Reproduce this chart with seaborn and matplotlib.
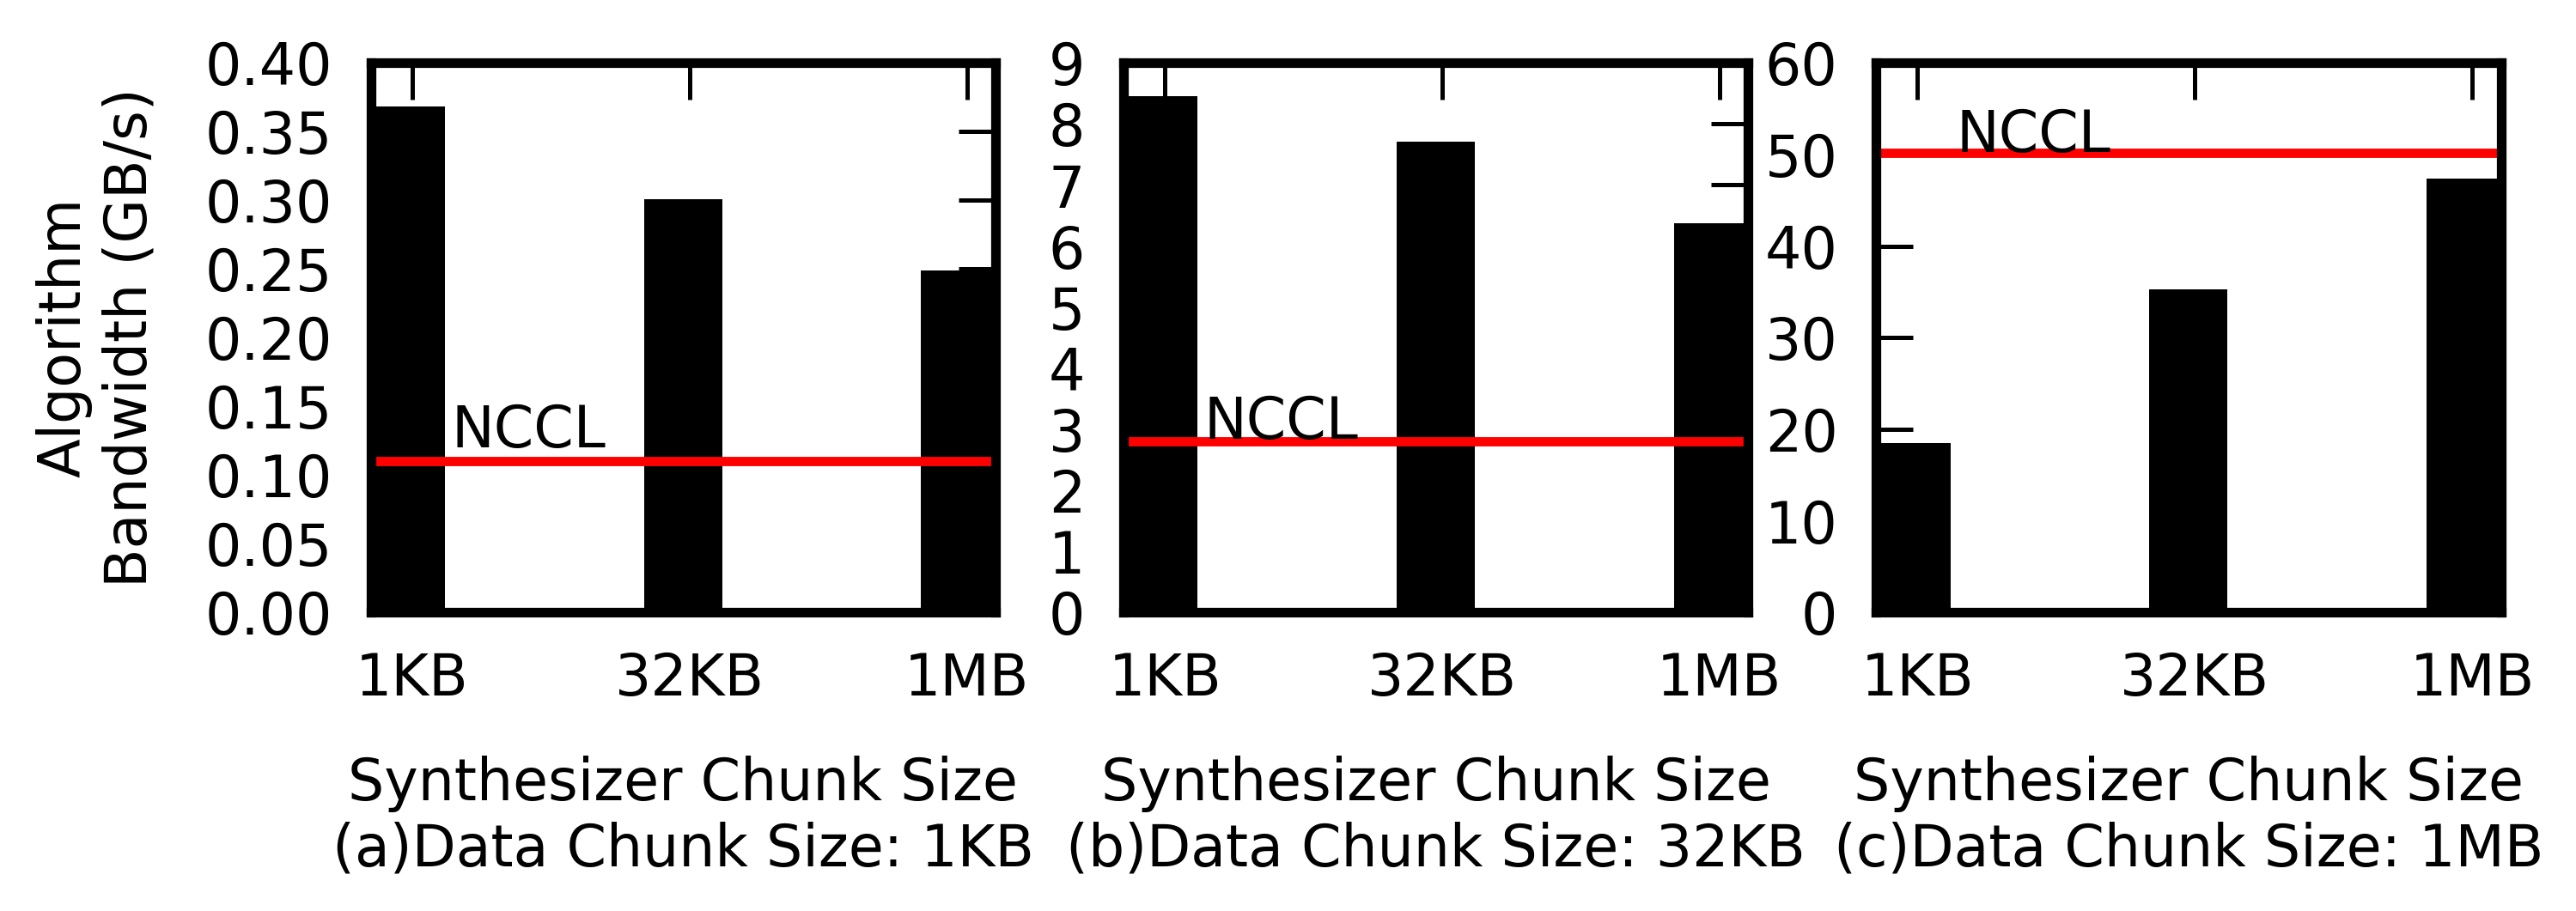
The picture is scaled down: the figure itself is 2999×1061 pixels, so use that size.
import numpy as np
import matplotlib
matplotlib.use("Agg")
import matplotlib.pyplot as plt
import seaborn as sns

# ---------------------------------------------------------
# data
# ---------------------------------------------------------
chunk_labels = ["1KB", "32KB", "1MB"]

bw_1kb = [0.368, 0.301, 0.249]
bw_32kb = [8.45, 7.71, 6.37]
bw_1mb = [18.5, 35.3, 47.4]

nccl_bw = [0.110, 2.80, 50.2]
nccl_text_y = [0.12, 2.85, 50.3]

panel_titles = [
    "Synthesizer Chunk Size\n(a)Data Chunk Size: 1KB",
    "Synthesizer Chunk Size\n(b)Data Chunk Size: 32KB",
    "Synthesizer Chunk Size\n(c)Data Chunk Size: 1MB",
]
y_ticks = [
    np.arange(0, 0.401, 0.05),
    np.arange(0, 10, 1),
    np.arange(0, 61, 10),
]
y_fmt = ["%.2f", "%d", "%d"]

# ---------------------------------------------------------
# style
# ---------------------------------------------------------
sns.set_style("ticks")
plt.rcParams["font.family"] = ["DejaVu Sans"]
plt.rcParams["font.size"] = 16
plt.rcParams["text.color"] = "black"
plt.rcParams["axes.labelcolor"] = "black"

fig, axes = plt.subplots(1, 3, figsize=(9.997, 3.537), dpi=300)
fig.subplots_adjust(left=0.1439, right=0.9708, bottom=0.3277, top=0.9309,
                    wspace=0.2045)

tick_shift = 0.0235  # ticks sit a bit right of the bar centres
tick_pos = [i + tick_shift for i in range(len(chunk_labels))]

for k, (ax, vals) in enumerate(zip(axes, [bw_1kb, bw_32kb, bw_1mb])):
    sns.barplot(x=chunk_labels, y=vals, color="black", saturation=1,
                width=0.283, linewidth=0, ax=ax)
    ax.axhline(nccl_bw[k], color="red", lw=2.6)
    ax.text(tick_pos[0] + 0.14, nccl_text_y[k], "NCCL", fontsize=16,
            color="black")

    ax.set_xlim(-0.1265, 2.127)
    ax.set_ylim(y_ticks[k][0], y_ticks[k][-1])
    ax.set_xticks(tick_pos)
    ax.set_xticklabels(chunk_labels)
    ax.set_yticks(y_ticks[k])
    ax.yaxis.set_major_formatter(matplotlib.ticker.FormatStrFormatter(y_fmt[k]))

    ax.tick_params(direction="in", length=10.4, width=1.2, top=True,
                   right=True, pad=10.7, labelsize=16, colors="black")
    for sp in ax.spines.values():
        sp.set_visible(True)
        sp.set_linewidth(2.7)
        sp.set_color("black")

    ax.set_xlabel(panel_titles[k], fontsize=16, labelpad=13.5, color="black")
    ax.set_ylabel("")

axes[0].set_ylabel("Algorithm\nBandwidth (GB/s)", fontsize=16, labelpad=13,
                   color="black")

fig.savefig("out.png", dpi=300)
